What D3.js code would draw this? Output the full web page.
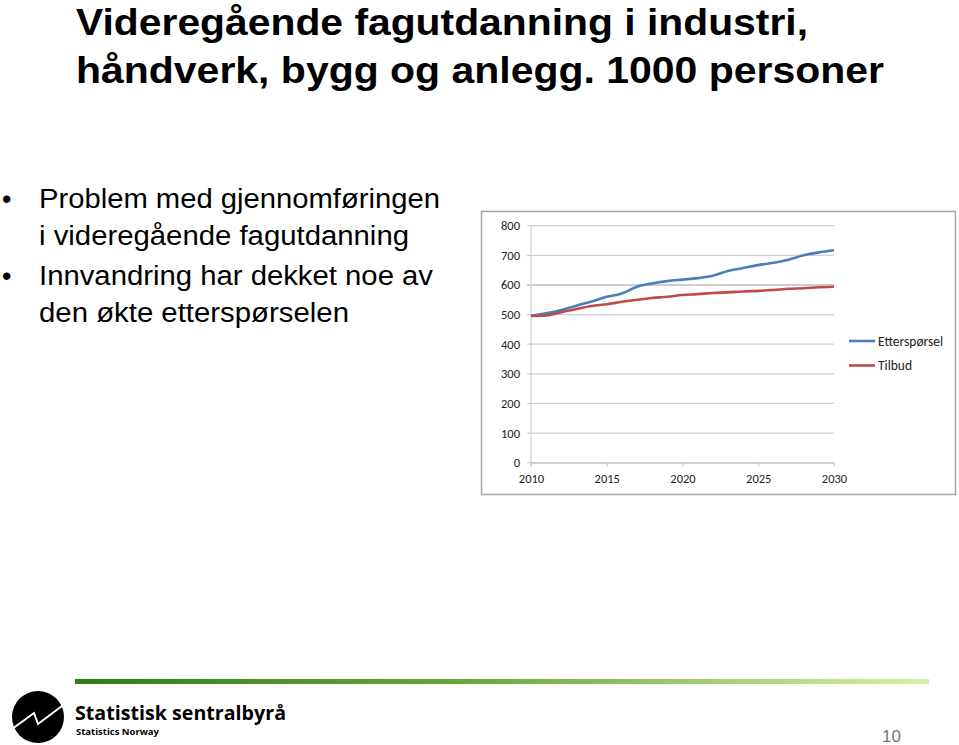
<!DOCTYPE html>
<html><head><meta charset="utf-8">
<script src="https://cdn.jsdelivr.net/npm/d3@7"></script>
<style>body{margin:0;background:#fff}svg{display:block}</style>
</head><body>
<svg id="s" width="959" height="745"></svg>
<script>
const years = d3.range(2010, 2031);
const etterspørsel = [496,504,515,530,544,560,571,594,605,613,618,623,631,647,657,667,675,685,700,710,717];
const tilbud = [495,497,508,519,529,535,543,550,556,560,566,569,573,575,578,580,583,587,589,592,594];
const yTicks = [0,100,200,300,400,500,600,700,800];
const xTicks = [2010,2015,2020,2025,2030];
const seriesNames = ["Etterspørsel","Tilbud"];
const seriesColors = ["#4a7ebb","#be4b48"];

const svg = d3.select("#s");
const sans = "'Liberation Sans', Arial, sans-serif";
const cal = "Carlito, 'Open Sans', 'DejaVu Sans', sans-serif";

// Title
const title = ["Videregående fagutdanning i industri,","håndverk, bygg og anlegg. 1000 personer"];
const tw = [732, 808];
title.forEach((t,i)=>{
  svg.append("text").attr("x",76).attr("y",35+i*48).attr("font-family",sans)
    .attr("font-weight","bold").attr("font-size",37).attr("textLength",tw[i])
    .attr("lengthAdjust","spacingAndGlyphs").attr("fill","#000").text(t);
});

// Bullets
const bullets = [["Problem med gjennomføringen","i videregående fagutdanning"],["Innvandring har dekket noe av","den økte etterspørselen"]];
const bw = [[401,370],[394,310]];
let by = [208,285];
bullets.forEach((b,i)=>{
  svg.append("text").attr("x",2).attr("y",by[i]).attr("font-family",sans).attr("font-size",27).text("•");
  b.forEach((l,j)=>{
    svg.append("text").attr("x",39).attr("y",by[i]+j*37).attr("font-family",sans)
      .attr("font-size",27).attr("textLength",bw[i][j]).attr("lengthAdjust","spacingAndGlyphs").text(l);
  });
});

// Chart frame
svg.append("rect").attr("x",481.5).attr("y",211.5).attr("width",474).attr("height",283)
  .attr("fill","#fff").attr("stroke","#a6a6a6").attr("stroke-width",1.5);

const x = d3.scaleLinear().domain([2010,2030]).range([531,834]);
const y = d3.scaleLinear().domain([0,800]).range([462.7,225.7]);

const g = svg.append("g");
// grid
g.selectAll(".grid").data(yTicks).join("line")
  .attr("x1",527).attr("x2",834).attr("y1",d=>y(d)).attr("y2",d=>y(d))
  .attr("stroke",d=>d===600?"#bdbdbd":"#cfcfcf").attr("stroke-width",d=>d===600?1.6:1.2);
// y axis line
g.append("line").attr("x1",x(2010)).attr("x2",x(2010)).attr("y1",y(800)).attr("y2",y(0)+4)
  .attr("stroke","#d0d0d0").attr("stroke-width",1.2);
// x axis
const xa = d3.axisBottom(x).tickValues(xTicks).tickFormat(d3.format("d")).tickSize(4).tickSizeOuter(0);
const xg = g.append("g").attr("transform",`translate(0,${y(0)})`).call(xa);
xg.select(".domain").attr("stroke","#c8c8c8").attr("stroke-width",1.2);
xg.selectAll(".tick line").attr("stroke","#c8c8c8");
xg.selectAll("text").attr("font-family",cal).attr("font-size",12.5).attr("fill","#222").attr("dy","1.05em");
// y labels
const ya = d3.axisLeft(y).tickValues(yTicks).tickSize(0).tickPadding(11);
const yg = g.append("g").attr("transform",`translate(${x(2010)},0)`).call(ya);
yg.select(".domain").remove();
yg.selectAll("text").attr("font-family",cal).attr("font-size",12.5).attr("fill","#222");

const line = d3.line().x((d,i)=>x(years[i])).y(d=>y(d)).curve(d3.curveMonotoneX);
[etterspørsel,tilbud].forEach((s,i)=>{
  g.append("path").attr("d",line(s)).attr("fill","none").attr("stroke",seriesColors[i])
    .attr("stroke-width",2.6).attr("stroke-linejoin","round");
});
// legend
seriesNames.forEach((n,i)=>{
  const ly = 341+i*24.5;
  g.append("line").attr("x1",849).attr("x2",875).attr("y1",ly).attr("y2",ly)
    .attr("stroke",seriesColors[i]).attr("stroke-width",2.6);
  g.append("text").attr("x",878).attr("y",ly+4.5).attr("font-family",cal).attr("font-size",13.5)
    .attr("fill","#222").text(n);
});

// Footer gradient bar
const defs = svg.append("defs");
const lg = defs.append("linearGradient").attr("id","gb");
lg.append("stop").attr("offset","0%").attr("stop-color","#2f7d18");
lg.append("stop").attr("offset","45%").attr("stop-color","#6aa53a");
lg.append("stop").attr("offset","100%").attr("stop-color","#d4f2a4");
svg.append("rect").attr("x",75).attr("y",679).attr("width",854).attr("height",5).attr("fill","url(#gb)");

// Logo
svg.append("circle").attr("cx",38).attr("cy",717).attr("r",26).attr("fill","#000");
svg.append("path").attr("d","M8,732 L34,713 L38,724 L66,703").attr("fill","none")
  .attr("stroke","#fff").attr("stroke-width",2);
svg.append("text").attr("x",75).attr("y",720).attr("font-family","'Open Sans', 'DejaVu Sans', sans-serif")
  .attr("font-weight","bold").attr("font-size",19).attr("textLength",211).attr("lengthAdjust","spacingAndGlyphs")
  .text("Statistisk sentralbyrå");
svg.append("text").attr("x",76).attr("y",735).attr("font-family","'Open Sans', 'DejaVu Sans', sans-serif")
  .attr("font-weight","bold").attr("font-size",9).attr("textLength",83).attr("lengthAdjust","spacingAndGlyphs")
  .text("Statistics Norway");
svg.append("text").attr("x",882).attr("y",742).attr("font-family",sans).attr("font-size",17)
  .attr("fill","#777").text("10");
</script>
</body></html>
